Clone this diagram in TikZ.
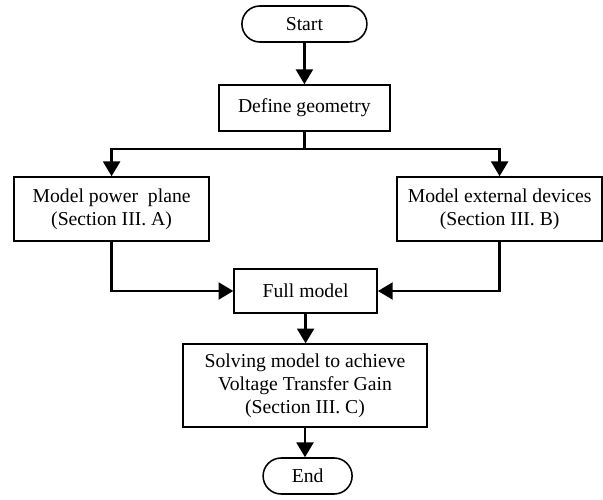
\documentclass[tikz,border=0pt]{standalone}
\usepackage{fontspec}
\setmainfont{Liberation Serif}
\usetikzlibrary{arrows.meta, positioning, calc}
\tikzset{
  every picture/.style={font=\fontsize{14}{16.2}\selectfont, line width=1.1pt},
  box/.style={draw=black, fill=white, align=center, inner sep=3pt},
  term/.style={box, rounded corners=0.45cm, minimum width=#1, minimum height=0.9cm},
  arrow/.style={-{Triangle[length=0.37cm, width=0.42cm]}, line width=2pt},
  line/.style={line width=2pt},
}
\begin{document}
\begin{tikzpicture}[blk/.style={box, minimum width=#1, minimum height=1.6cm}]
  \useasboundingbox (0,0) rectangle (15.075,-12.475);
  \node[term=3.125cm] (start) at (7.61,-0.6) {Start};
  \node[box, minimum width=4.275cm, minimum height=1.15cm] (geo) at (7.61,-2.7) {Define geometry};
  \coordinate (br) at (7.61,-3.725);
  \node[blk=4.875cm] (plane) at (2.79,-5.225) {Model power\ \ plane\\(Section III. A)};
  \node[blk=5.125cm] (ext) at (12.49,-5.225) {Model external devices\\(Section III. B)};
  \node[box, minimum width=3.575cm, minimum height=1.1cm] (full) at (7.64,-7.275) {Full model};
  \node[box, minimum width=6.1cm, minimum height=2.075cm] (solve) at (7.625,-9.64) {Solving model to achieve\\Voltage Transfer Gain\\(Section III. C)};
  \node[term=2.225cm] (end) at (7.69,-11.9) {End};
  \draw[arrow] (start) -- (start |- geo.north);
  \draw[line] (geo.south) -- (br);
  \foreach \b in {plane, ext} { \draw[arrow] (br) -| (\b.north); \draw[arrow] (\b.south) |- (full); }
  \draw[arrow] (full.south) -- (full.south |- solve.north);
  \draw[arrow] (solve.south) -- (solve.south |- end.north);
\end{tikzpicture}
\end{document}
